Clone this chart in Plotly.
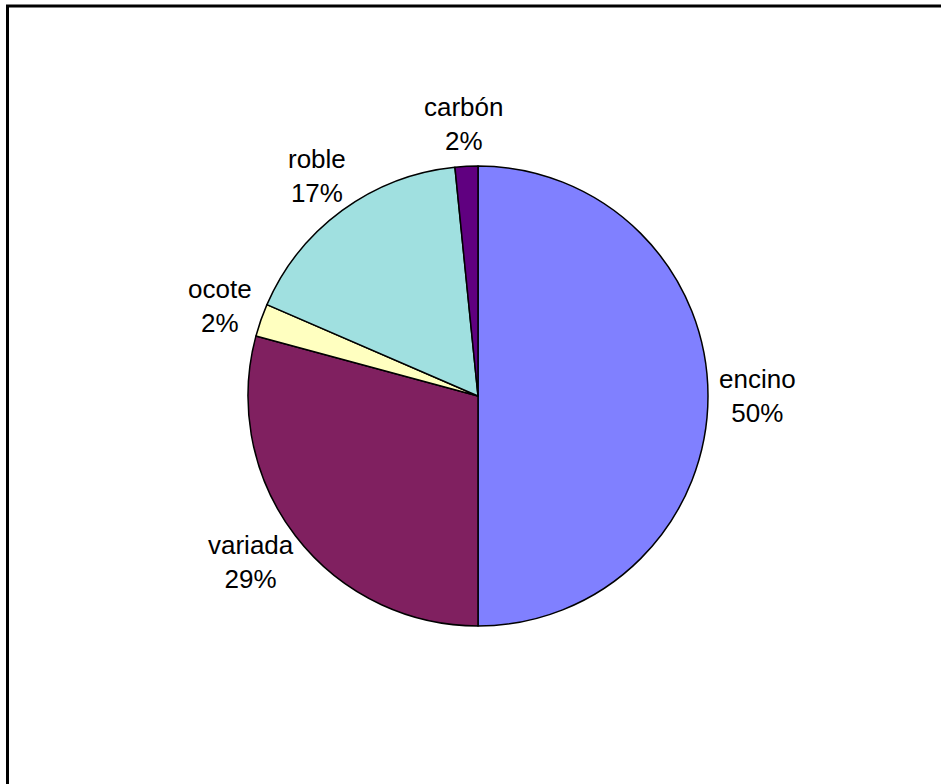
import math
import plotly.graph_objects as go

labels = ["encino", "variada", "ocote", "roble", "carbón"]
values = [50.0, 29.2, 2.3, 16.9, 1.6]
pct_labels = ["50%", "29%", "2%", "17%", "2%"]
colors = ["#8080FF", "#802060", "#FFFFC0", "#A0E0E0", "#600080"]

W, H = 941, 784
cx, cy, R = 478, 396, 230
gap = 9
fs = 26

fig = go.Figure(go.Pie(
    labels=labels, values=values, sort=False, direction="clockwise", rotation=0,
    marker=dict(colors=colors, line=dict(color="black", width=1.5)),
    textinfo="none", hoverinfo="label+percent", showlegend=False,
    domain=dict(x=[(cx - R) / W, (cx + R) / W], y=[1 - (cy + R) / H, 1 - (cy - R) / H]),
))

total = sum(values)
acc = 0.0
annotations = []
for lab, v, p in zip(labels, values, pct_labels):
    mid = (acc + v / 2) / total * 2 * math.pi
    acc += v
    s, c = math.sin(mid), math.cos(mid)
    px = cx + s * (R + gap)
    py = cy - c * (R + gap)
    bw = max(len(lab), len(p)) * 0.52 * fs
    bh = 2 * fs * 1.3
    bx = px + s * bw / 2
    by = py - c * bh / 2
    annotations.append(dict(
        x=bx / W, y=1 - by / H, xref="paper", yref="paper",
        text=f"{lab}<br>{p}", showarrow=False, xanchor="center", yanchor="middle",
        align="center", font=dict(family="Liberation Sans, Arial", size=fs, color="black"),
    ))

fig.update_layout(
    width=W, height=H, margin=dict(l=0, r=0, t=0, b=0),
    paper_bgcolor="white", plot_bgcolor="white",
    annotations=annotations,
    shapes=[dict(type="rect", xref="paper", yref="paper",
                 x0=7.5 / W, x1=1.05, y0=-0.05, y1=1 - 6 / H,
                 line=dict(color="black", width=3))],
)

fig.write_html("out.html")
